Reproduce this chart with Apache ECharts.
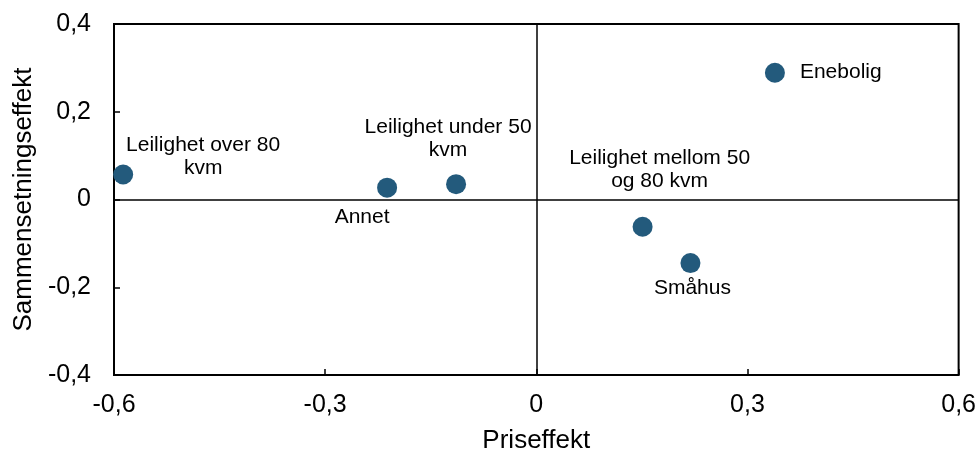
<!DOCTYPE html>
<html>
<head>
<meta charset="utf-8">
<script src="https://cdn.jsdelivr.net/npm/echarts@6/dist/echarts.min.js"></script>
<style>
  html, body { margin: 0; padding: 0; background: #fff; }
  #chart { width: 979px; height: 459px; }
</style>
</head>
<body>
<div id="chart"></div>
<script>
// data
const names = ['Leilighet over 80\nkvm', 'Annet', 'Leilighet under 50\nkvm', 'Leilighet mellom 50\nog 80 kvm', 'Småhus', 'Enebolig']
const priseffekt = [-0.587, -0.212, -0.114, 0.151, 0.219, 0.339]
const sammensetning = [0.057, 0.027, 0.035, -0.062, -0.145, 0.289]
const xTicks = [-0.6, -0.3, 0, 0.3, 0.6]
const yTicks = [-0.4, -0.2, 0, 0.2, 0.4]

// label placement (style only)
const labelPos = [
  { position: 'inside', offset: [80, -18] },
  { position: 'inside', offset: [-25, 30] },
  { position: 'inside', offset: [-8, -45] },
  { position: 'inside', offset: [17, -57] },
  { position: 'inside', offset: [2, 25] },
  { position: 'right', distance: 15 }
]

const fmt = (v) => String(Math.round(v * 10) / 10).replace('.', ',')
const font = 'Liberation Sans, Arial, sans-serif'

const chart = echarts.init(document.getElementById('chart'))

const option = {
  animation: false,
  grid: {
    left: 114, right: 20, top: 24, bottom: 79,
    show: true,
    borderColor: '#000',
    borderWidth: 2
  },
  xAxis: {
    type: 'value',
    min: xTicks[0],
    max: xTicks[xTicks.length - 1],
    interval: 0.3,
    name: 'Priseffekt',
    nameLocation: 'middle',
    nameGap: 53,
    nameTextStyle: { color: '#000', fontSize: 26, fontFamily: font },
    axisLine: { show: false, onZero: false },
    axisTick: { show: true, inside: true, length: 6, lineStyle: { color: '#000', width: 1.5 } },
    axisLabel: { color: '#000', fontSize: 25, fontFamily: font, margin: 18, formatter: fmt },
    splitLine: { show: false }
  },
  yAxis: {
    type: 'value',
    min: yTicks[0],
    max: yTicks[yTicks.length - 1],
    interval: 0.2,
    name: 'Sammensetningseffekt',
    nameLocation: 'middle',
    nameGap: 70,
    nameTextStyle: { color: '#000', fontSize: 26, fontFamily: font },
    axisLine: { show: false, onZero: false },
    axisTick: { show: true, inside: true, length: 6, lineStyle: { color: '#000', width: 1.5 } },
    axisLabel: { color: '#000', fontSize: 25, fontFamily: font, margin: 23, formatter: fmt },
    splitLine: { show: false }
  },
  series: [
    {
      type: 'scatter',
      symbolSize: 20,
      itemStyle: { color: '#235a7c', opacity: 1 },
      data: names.map((n, i) => ({
        name: n,
        value: [priseffekt[i], sammensetning[i]],
        label: Object.assign({
          show: true,
          formatter: '{b}',
          color: '#000',
          fontSize: 21,
          lineHeight: 23,
          fontFamily: font,
          align: 'center',
          verticalAlign: 'middle'
        }, labelPos[i], i === 5 ? { align: 'left' } : {})
      })),
      markLine: {
        silent: true,
        symbol: 'none',
        label: { show: false },
        lineStyle: { color: '#000', type: 'solid', width: 1.5 },
        data: [{ xAxis: 0 }, { yAxis: 0 }]
      },
      z: 3
    }
  ]
}

chart.setOption(option)
</script>
</body>
</html>
